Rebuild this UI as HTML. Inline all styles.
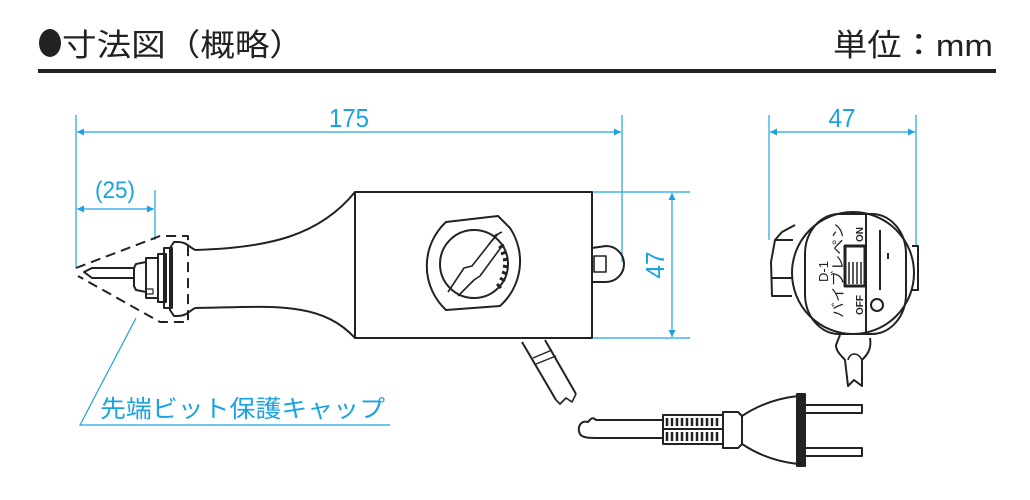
<!DOCTYPE html>
<html><head><meta charset="utf-8"><style>
html,body{margin:0;padding:0;background:#fff;width:1030px;height:500px;overflow:hidden}
svg{display:block}
</style></head><body>
<svg width="1030" height="500" viewBox="0 0 1030 500" xmlns="http://www.w3.org/2000/svg">
<defs>
<marker id="a" viewBox="0 0 10 10" refX="10" refY="5" markerWidth="9" markerHeight="7" orient="auto-start-reverse" markerUnits="userSpaceOnUse"><path d="M0,0 L10,5 L0,10z" fill="#1aa3e0"/></marker>
</defs>
<ellipse cx="50" cy="43" rx="11" ry="14" fill="#222"/>
<g font-family="Liberation Sans, Noto Sans CJK JP, sans-serif" fill="#222">
<text x="62" y="56" font-size="31" textLength="242" lengthAdjust="spacingAndGlyphs">寸法図（概略）</text>
<text x="993" y="56" font-size="31" text-anchor="end" textLength="160" lengthAdjust="spacingAndGlyphs">単位：mm</text>
</g>
<rect x="38" y="69" width="958" height="4" fill="#222"/>

<g stroke="#1aa3e0" stroke-width="1.2" fill="none">
<line x1="76" y1="115" x2="76" y2="268"/>
<line x1="622" y1="115" x2="622" y2="262"/>
<line x1="77" y1="132" x2="621" y2="132" marker-start="url(#a)" marker-end="url(#a)"/>
<line x1="155" y1="190" x2="155" y2="240"/>
<line x1="77" y1="209" x2="154" y2="209" marker-start="url(#a)" marker-end="url(#a)"/>
<line x1="593" y1="192" x2="690" y2="192"/>
<line x1="593" y1="338" x2="690" y2="338"/>
<line x1="672" y1="193" x2="672" y2="337" marker-start="url(#a)" marker-end="url(#a)"/>
<line x1="769" y1="115" x2="769" y2="240"/>
<line x1="916" y1="115" x2="916" y2="245"/>
<line x1="770" y1="132" x2="915" y2="132" marker-start="url(#a)" marker-end="url(#a)"/>
<polyline points="136,318 80,425 390,425"/>
</g>
<g fill="#1aa3e0" font-family="Liberation Sans, Noto Sans CJK JP, sans-serif">
<text x="349" y="127" font-size="26" text-anchor="middle" textLength="40" lengthAdjust="spacingAndGlyphs">175</text>
<text x="115" y="198" font-size="24" text-anchor="middle" textLength="40" lengthAdjust="spacingAndGlyphs">(25)</text>
<text x="842" y="127" font-size="26" text-anchor="middle" textLength="27" lengthAdjust="spacingAndGlyphs">47</text>
<text transform="translate(664,265) rotate(-90)" font-size="26" text-anchor="middle" textLength="27" lengthAdjust="spacingAndGlyphs">47</text>
<text x="100" y="417" font-size="24" textLength="285" lengthAdjust="spacingAndGlyphs">先端ビット保護キャップ</text>
</g>

<g stroke="#222" stroke-width="2" fill="none" stroke-linejoin="round">
<rect x="355" y="192" width="237" height="146"/>
<path d="M355,192 C320,235 270,248 195,250"/>
<path d="M355,338 C320,300 270,307 195,308"/>
<path d="M195,250 C188,246 186,242 178,242 L174,242 L170,248 L170,310 L174,316 L178,316 C186,316 188,312 195,308"/>
<rect x="164" y="248" width="8" height="60"/>
<rect x="158" y="254" width="8" height="48"/>
<rect x="146" y="258" width="12" height="40"/>
<path d="M146,262 L136,264 L134,268 L134,286 L136,290 L146,292"/>
<path d="M134,268 L92,268 L84,272 L92,278 L134,278"/>
<rect x="146" y="289" width="7" height="5" stroke-width="1.2"/>
<path d="M76,268 L160,236 L188,236 L188,322 L160,322 L78,276" stroke-dasharray="10,6"/>
<path d="M592,248 L606,246 A17,17 0 0 1 606,282 L592,282"/>
<rect x="594" y="256" width="12" height="16" stroke-width="1.6"/>
<path d="M446,222 L498,216 L510,228 A60,60 0 0 1 500,306 L446,310 A60,60 0 0 1 446,222z"/>
<circle cx="474" cy="264" r="34"/>
<path d="M448,292 L464,268 L472,266 L494,238" stroke-width="1.6"/>
<path d="M458,296 L474,280 L480,276 L502,246" stroke-width="1.6"/>
<path d="M494,236 L502,232 M489,244 L498,234" stroke-width="1.6"/>
<g stroke-width="3">
<line x1="499" y1="248" x2="504" y2="245"/><line x1="501" y1="254" x2="506" y2="252"/><line x1="503" y1="260" x2="508" y2="259"/>
<line x1="503" y1="266" x2="508" y2="267"/><line x1="502" y1="272" x2="507" y2="274"/><line x1="500" y1="278" x2="505" y2="281"/><line x1="497" y1="284" x2="501" y2="288"/>
</g>
<path d="M522,342 L556,400 M545,340 L576,394"/>
<path d="M533,358 L552,350 M536,364 L556,356" stroke-width="1.4"/>
<path d="M556,400 L560,404 L566,398 L572,402 L576,394" stroke-width="1.6"/>
</g>

<g stroke="#222" stroke-width="2" fill="none" stroke-linejoin="round">
<path d="M663,420 L596,420 C592,416 590,420 588,422 C580,420 577,428 580,434 C582,438 590,438 600,438 L663,438"/>
<rect x="663" y="415" width="60" height="29"/>
<line x1="663" y1="429" x2="723" y2="429"/>
<g stroke-width="2.5">
<path d="M667,418 v8 M672,418 v8 M677,418 v8 M682,418 v8 M687,418 v8 M692,418 v8 M697,418 v8 M702,418 v8 M707,418 v8 M712,418 v8 M717,418 v8"/>
<path d="M667,432 v9 M672,432 v9 M677,432 v9 M682,432 v9 M687,432 v9 M692,432 v9 M697,432 v9 M702,432 v9 M707,432 v9 M712,432 v9 M717,432 v9"/>
</g>
<path d="M723,412 L738,412 L742,416 L742,444 L738,448 L723,448z"/>
<path d="M742,416 C760,404 780,398 798,396 M742,444 C760,456 780,462 798,464"/>
<rect x="797" y="394" width="8" height="72" fill="#222"/>
<rect x="805" y="405" width="57" height="8"/>
<rect x="805" y="448" width="57" height="8"/>
</g>

<!-- front view -->
<g stroke="#222" stroke-width="2" fill="none" stroke-linejoin="round">
<path d="M795,225 L782,232 L775,240 L771,262 L772,296 L792,296"/>
<line x1="775" y1="240" x2="793" y2="240"/>
<line x1="771" y1="278" x2="792" y2="278"/>
<path d="M912,246 L918,246 L918,290 L912,290"/>
<circle cx="853" cy="273" r="61"/>
<rect x="805" y="214" width="101" height="120" rx="34" ry="40"/>
<path d="M866,215 L866,333"/>
<rect x="845" y="246" width="20" height="40" stroke-width="3"/>
<path d="M849,262 v22 M853,262 v22 M857,262 v22 M861,262 v22" stroke-width="1.5"/>
<line x1="880" y1="230" x2="880" y2="290"/>
<line x1="888" y1="253" x2="888" y2="259"/>
<circle cx="877" cy="305" r="6"/>
<path d="M840,335 L836,345 C836,352 842,356 845,360 L848,386 L854,380 L862,386 L862,360 C866,356 872,350 870,338"/>
<path d="M848,360 C850,352 858,352 862,360" stroke-width="1.6"/>
</g>
<g fill="#222" font-family="Liberation Sans, Noto Sans CJK JP, sans-serif">
<text transform="translate(863,242) rotate(-90)" font-size="10" font-weight="bold">ON</text>
<text transform="translate(863,315) rotate(-90)" font-size="10" font-weight="bold">OFF</text>
<text transform="translate(828,282) rotate(-90)" font-size="13">D-1</text>
<text transform="translate(843,318) rotate(-90)" font-size="14" textLength="95" lengthAdjust="spacingAndGlyphs">バイブレペン</text>
</g>
</svg>
</body></html>
